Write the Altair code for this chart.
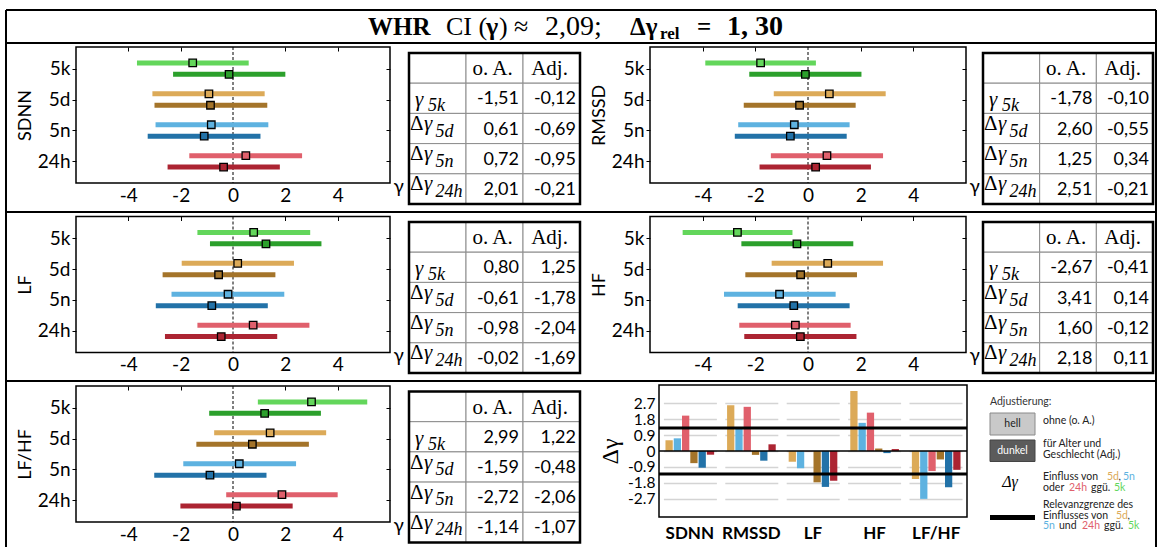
import altair as alt
import pandas as pd

W, H = 1158, 547
SANS = "Lato"
SERIF = "Liberation Serif"

CATS = ["5k", "5d", "5n", "24h"]
METRICS = ["SDNN", "RMSSD", "LF", "HF", "LF/HF"]

# ---- forest plots: CI low / CI high / point estimate for 5k, 5d, 5n, 24h ----
SDNN_OA_LO = [-3.67, -3.08, -2.96, -1.67]
SDNN_OA_HI = [0.60, 1.21, 1.35, 2.64]
SDNN_OA_PT = [-1.54, -0.92, -0.83, 0.49]
SDNN_ADJ_LO = [-2.29, -3.00, -3.26, -2.50]
SDNN_ADJ_HI = [2.00, 1.31, 1.05, 1.79]
SDNN_ADJ_PT = [-0.15, -0.86, -1.10, -0.36]

RMSSD_OA_LO = [-3.90, -1.30, -2.65, -1.41]
RMSSD_OA_HI = [0.30, 2.95, 1.58, 2.85]
RMSSD_OA_PT = [-1.80, 0.81, -0.52, 0.72]
RMSSD_ADJ_LO = [-2.23, -2.44, -2.78, -1.84]
RMSSD_ADJ_HI = [2.03, 1.81, 1.47, 2.39]
RMSSD_ADJ_PT = [-0.10, -0.32, -0.67, 0.29]

LF_OA_LO = [-1.36, -1.96, -2.35, -1.36]
LF_OA_HI = [2.95, 2.33, 1.96, 2.92]
LF_OA_PT = [0.79, 0.18, -0.19, 0.77]
LF_ADJ_LO = [-0.88, -2.69, -2.95, -2.60]
LF_ADJ_HI = [3.38, 1.62, 1.33, 1.69]
LF_ADJ_PT = [1.26, -0.55, -0.81, -0.45]

HF_OA_LO = [-4.76, -1.38, -3.19, -2.61]
HF_OA_HI = [-0.59, 2.85, 1.05, 1.62]
HF_OA_PT = [-2.68, 0.75, -1.08, -0.48]
HF_ADJ_LO = [-2.53, -2.38, -2.67, -2.42]
HF_ADJ_HI = [1.72, 1.86, 1.58, 1.84]
HF_ADJ_PT = [-0.42, -0.28, -0.54, -0.29]

LFHF_OA_LO = [0.95, -0.72, -1.90, -0.26]
LFHF_OA_HI = [5.13, 3.56, 2.41, 4.00]
LFHF_OA_PT = [3.00, 1.42, 0.24, 1.87]
LFHF_ADJ_LO = [-0.91, -1.40, -3.01, -2.01]
LFHF_ADJ_HI = [3.36, 2.90, 1.28, 2.28]
LFHF_ADJ_PT = [1.21, 0.74, -0.88, 0.13]

# ---- tables: gamma_5k, dgamma_5d, dgamma_5n, dgamma_24h ----
TAB_ROWS_SUB = ["5k", "5d", "5n", "24h"]
SDNN_TAB_OA = [-1.51, 0.61, 0.72, 2.01]
SDNN_TAB_ADJ = [-0.12, -0.69, -0.95, -0.21]
RMSSD_TAB_OA = [-1.78, 2.60, 1.25, 2.51]
RMSSD_TAB_ADJ = [-0.10, -0.55, 0.34, -0.21]
LF_TAB_OA = [0.80, -0.61, -0.98, -0.02]
LF_TAB_ADJ = [1.25, -1.78, -2.04, -1.69]
HF_TAB_OA = [-2.67, 3.41, 1.60, 2.18]
HF_TAB_ADJ = [-0.41, 0.14, -0.12, 0.11]
LFHF_TAB_OA = [2.99, -1.59, -2.72, -1.14]
LFHF_TAB_ADJ = [1.22, -0.48, -2.06, -1.07]

# ---- bar chart: delta gamma [5d o.A., 5n o.A., 24h o.A., 5d Adj., 5n Adj., 24h Adj.] ----
BAR_KEYS = ["5d|o", "5n|o", "24h|o", "5d|a", "5n|a", "24h|a"]
BAR_SDNN = [0.61, 0.72, 2.01, -0.69, -0.95, -0.21]
BAR_RMSSD = [2.60, 1.25, 2.51, -0.22, -0.55, 0.38]
BAR_LF = [-0.61, -0.98, -0.02, -1.78, -2.04, -1.69]
BAR_HF = [3.41, 1.60, 2.18, 0.14, -0.12, 0.11]
BAR_LFHF = [-1.59, -2.72, -1.14, -0.48, -2.06, -1.07]
BAR_TICKS = [-2.7, -1.8, -0.9, 0, 0.9, 1.8, 2.7]
DGAMMA_REL = 1.30

COLOR_KEYS = ["5k|o", "5k|a", "5d|o", "5d|a", "5n|o", "5n|a", "24h|o", "24h|a"]
COLOR_VALUES = ["#63d65b", "#2ca02c", "#dcaa58", "#a4742a",
                "#5eb2e0", "#2272a8", "#e0606c", "#ac2432"]
CSCALE = alt.Scale(domain=COLOR_KEYS, range=COLOR_VALUES)

ONE = pd.DataFrame({"a": [0]})

# layout (pixels)
ROW_SEP = [43, 212, 381]
FOREST_TOP = [47, 216.5, 386]
FOREST_H = 136
FOREST_X = [(76, 390), (650, 966)]
TABLE_TOP = [53, 222, 391.5]
TABLE_H = 151
TABLE_X = [(409, 580), (983, 1153)]


def fmt(v):
    return f"{v:.2f}".replace(".", ",")


def forest(name, x0, x1, y0, y1, oa, adj):
    rows = []
    for i, c in enumerate(CATS):
        rows.append({"idx": i + 1, "grp": "o", "key": c + "|o",
                     "lo": oa[0][i], "hi": oa[1][i], "pt": oa[2][i]})
        rows.append({"idx": i + 1, "grp": "a", "key": c + "|a",
                     "lo": adj[0][i], "hi": adj[1][i], "pt": adj[2][i]})
    df = pd.DataFrame(rows)
    xs = alt.Scale(domain=[-6, 6], range=[x0, x1], nice=False, zero=False)
    ys = alt.Scale(domain=[0.3, 4.7], range=[y0, y1], nice=False, zero=False)
    base = alt.Chart(df).transform_calculate(
        yy="datum.idx + (datum.grp == 'o' ? -0.185 : 0.185)")
    frame_df = pd.DataFrame({"xa": [-6], "xb": [6], "ya": [0.3], "yb": [4.7], "z": [0]})

    zero = alt.Chart(frame_df).mark_rule(color="black", strokeWidth=1, strokeDash=[3, 2]).encode(
        x=alt.X("z:Q", scale=xs, axis=None),
        y=alt.Y("ya:Q", scale=ys, axis=None),
        y2="yb:Q")
    ci = base.mark_rule(strokeWidth=5).encode(
        x=alt.X("lo:Q", scale=xs, axis=alt.Axis(
            orient="bottom", offset=y1 - H, values=[-4, -2, 0, 2, 4],
            labelExpr="toString(datum.value)", ticks=False, domain=False, grid=False,
            labelFont=SANS, labelFontSize=19, labelColor="black", labelPadding=3,
            title="γ", titleX=x1 + 3, titleY=3, titleAlign="left", titleBaseline="middle",
            titleAngle=0, titleFont=SANS, titleFontSize=19, titleFontWeight="normal",
            titleColor="black")),
        x2="hi:Q",
        y=alt.Y("yy:Q", scale=ys, axis=alt.Axis(
            orient="left", offset=-x0, values=[1, 2, 3, 4],
            labelExpr="['','5k','5d','5n','24h'][datum.value]",
            tickSize=4, tickColor="black", domain=False, grid=False,
            labelFont=SANS, labelFontSize=19, labelColor="black", labelPadding=2,
            title=name, titleX=-51, titleY=(y0 + y1) / 2, titleAngle=270,
            titleAlign="center", titleBaseline="middle", titleFont=SANS,
            titleFontSize=18, titleFontWeight="normal", titleColor="black")),
        color=alt.Color("key:N", scale=CSCALE, legend=None))
    pts = base.mark_square(size=56, stroke="black", strokeWidth=1.3, opacity=1).encode(
        x=alt.X("pt:Q", scale=xs, axis=alt.Axis(
            orient="top", offset=-(y0 + 4), values=[-4, -2, 2, 4], labels=False,
            tickSize=4, tickColor="black", domain=False, grid=False, title="")),
        y=alt.Y("yy:Q", scale=ys, axis=alt.Axis(
            orient="right", offset=(x1 - 4) - W, values=[1, 2, 3, 4], labels=False,
            tickSize=4, tickColor="black", domain=False, grid=False, title="")),
        color=alt.Color("key:N", scale=CSCALE, legend=None))
    frame = alt.Chart(frame_df).mark_rect(fillOpacity=0, stroke="black", strokeWidth=1.5).encode(
        x=alt.X("xa:Q", scale=xs, axis=None), x2="xb:Q",
        y=alt.Y("ya:Q", scale=ys, axis=None), y2="yb:Q")
    return [zero, ci, pts, frame]


def table(x0, x1, y0, y1, oa, adj):
    xs = alt.Scale(type="band", domain=[0, 1, 2], range=[x0, x1], paddingInner=0, paddingOuter=0)
    ys = alt.Scale(type="band", domain=[0, 1, 2, 3, 4], range=[y0, y1], paddingInner=0, paddingOuter=0)
    cells = pd.DataFrame([{"r": r, "c": c} for r in range(5) for c in range(3)])
    header = pd.DataFrame({"r": [0, 0], "c": [1, 2], "t": ["o. A.", "Adj."]})
    vals = []
    for i in range(4):
        vals.append({"r": i + 1, "c": 1, "t": fmt(oa[i])})
        vals.append({"r": i + 1, "c": 2, "t": fmt(adj[i])})
    vals = pd.DataFrame(vals)
    labs = pd.DataFrame({"r": [1, 2, 3, 4], "c": [0, 0, 0, 0], "sub": TAB_ROWS_SUB})

    def X(bp):
        return alt.X("c:O", scale=xs, axis=None, bandPosition=bp)

    def Y(bp=0.5):
        return alt.Y("r:O", scale=ys, axis=None, bandPosition=bp)

    layers = []
    layers.append(alt.Chart(cells).mark_rect(fill="white", stroke="#8c8c8c", strokeWidth=1).encode(
        x=alt.X("c:O", scale=xs, axis=None), y=alt.Y("r:O", scale=ys, axis=None)))
    layers.append(alt.Chart(header).mark_text(font=SERIF, fontSize=21, color="black",
                                              align="center", baseline="middle", dx=-2, dy=1).encode(
        x=X(0.5), y=Y(), text="t:N"))
    layers.append(alt.Chart(vals).mark_text(font=SANS, fontSize=18, color="black",
                                            align="right", baseline="middle", dx=-4, dy=1).encode(
        x=X(1), y=Y(), text="t:N"))
    first = alt.Chart(labs).transform_filter("datum.r == 1")
    rest = alt.Chart(labs).transform_filter("datum.r > 1")
    layers.append(rest.mark_text(font=SERIF, fontSize=21, color="black", align="left",
                                 baseline="alphabetic", dx=1, dy=1.5, text="Δ").encode(x=X(0), y=Y()))
    layers.append(rest.mark_text(font=SERIF, fontSize=21, fontStyle="italic", color="black", align="left",
                                 baseline="alphabetic", dx=15, dy=1.5, text="γ").encode(x=X(0), y=Y()))
    layers.append(rest.mark_text(font=SERIF, fontSize=18, fontStyle="italic", color="black", align="left",
                                 baseline="alphabetic", dx=26.5, dy=8).encode(x=X(0), y=Y(), text="sub:N"))
    layers.append(first.mark_text(font=SERIF, fontSize=21, fontStyle="italic", color="black", align="left",
                                  baseline="alphabetic", dx=6, dy=8, text="γ").encode(x=X(0), y=Y()))
    layers.append(first.mark_text(font=SERIF, fontSize=18, fontStyle="italic", color="black", align="left",
                                  baseline="alphabetic", dx=19, dy=13).encode(x=X(0), y=Y(), text="sub:N"))
    layers.append(alt.Chart(ONE).mark_rect(fillOpacity=0, stroke="black", strokeWidth=2.5).encode(
        x=alt.value(x0), x2=alt.value(x1), y=alt.value(y0), y2=alt.value(y1)))
    return layers


layers = []

# frame lines of the whole figure
for yy in ROW_SEP:
    layers.append(alt.Chart(ONE).mark_rule(color="black", strokeWidth=2).encode(
        x=alt.value(6), x2=alt.value(1156), y=alt.value(yy)))
layers.append(alt.Chart(ONE).mark_rule(color="black", strokeWidth=2).encode(
    x=alt.value(6), x2=alt.value(1156), y=alt.value(10)))
for xx in [6, 1156]:
    layers.append(alt.Chart(ONE).mark_rule(color="black", strokeWidth=2).encode(
        x=alt.value(xx), y=alt.value(10), y2=alt.value(H)))


def txt(t, x, y, size, weight="normal", font=SERIF, color="black", align="left", style="normal"):
    return alt.Chart(ONE).mark_text(font=font, fontSize=size, fontWeight=weight, color=color,
                                    align=align, baseline="middle", fontStyle=style).encode(
        x=alt.value(x), y=alt.value(y), text=alt.value(t))


# header
layers.append(txt("WHR", 368, 27, 25, "bold"))
layers.append(txt("CI (", 446, 27, 26))
layers.append(txt("γ", 486, 27, 26, "bold"))
layers.append(txt(")", 499, 27, 26))
layers.append(txt("≈", 514, 27, 26))
layers.append(txt("2,09;", 545, 27, 28))
layers.append(txt("Δγ", 630, 27, 25, "bold"))
layers.append(txt("rel", 660, 34, 17, "bold"))
layers.append(txt("=", 697, 27, 25, "bold"))
layers.append(txt("1, 30", 727, 27, 28, "bold"))

# forest plots + tables
panels = [
    ("SDNN", 0, 0, (SDNN_OA_LO, SDNN_OA_HI, SDNN_OA_PT), (SDNN_ADJ_LO, SDNN_ADJ_HI, SDNN_ADJ_PT), SDNN_TAB_OA, SDNN_TAB_ADJ),
    ("RMSSD", 0, 1, (RMSSD_OA_LO, RMSSD_OA_HI, RMSSD_OA_PT), (RMSSD_ADJ_LO, RMSSD_ADJ_HI, RMSSD_ADJ_PT), RMSSD_TAB_OA, RMSSD_TAB_ADJ),
    ("LF", 1, 0, (LF_OA_LO, LF_OA_HI, LF_OA_PT), (LF_ADJ_LO, LF_ADJ_HI, LF_ADJ_PT), LF_TAB_OA, LF_TAB_ADJ),
    ("HF", 1, 1, (HF_OA_LO, HF_OA_HI, HF_OA_PT), (HF_ADJ_LO, HF_ADJ_HI, HF_ADJ_PT), HF_TAB_OA, HF_TAB_ADJ),
    ("LF/HF", 2, 0, (LFHF_OA_LO, LFHF_OA_HI, LFHF_OA_PT), (LFHF_ADJ_LO, LFHF_ADJ_HI, LFHF_ADJ_PT), LFHF_TAB_OA, LFHF_TAB_ADJ),
]
for name, r, c, oa, adj, toa, tadj in panels:
    fx0, fx1 = FOREST_X[c]
    fy0 = FOREST_TOP[r]
    layers += forest(name, fx0, fx1, fy0, fy0 + FOREST_H, oa, adj)
    tx0, tx1 = TABLE_X[c]
    ty0 = TABLE_TOP[r]
    layers += table(tx0, tx1, ty0, ty0 + TABLE_H, toa, tadj)

# bar chart
BX0, BX1, BY0, BY1 = 659, 967, 385, 517
brows = []
for m, vals in zip(METRICS, [BAR_SDNN, BAR_RMSSD, BAR_LF, BAR_HF, BAR_LFHF]):
    for k, v in zip(BAR_KEYS, vals):
        brows.append({"metric": m, "key": k, "v": v})
bdf = pd.DataFrame(brows)
bys = alt.Scale(domain=[-3.75, 3.75], range=[BY1, BY0], nice=False)
bars = alt.Chart(bdf).mark_bar().encode(
    x=alt.X("metric:N", sort=METRICS, scale=alt.Scale(domain=METRICS, range=[BX0, BX1],
                                                       paddingInner=0.21, paddingOuter=0.105),
            axis=alt.Axis(orient="bottom", offset=BY1 - H, labelFont=SANS, labelFontSize=17,
                          labelFontWeight="bold", labelColor="black", ticks=False, domain=False,
                          labelPadding=8, labelAngle=0, title="")),
    xOffset=alt.XOffset("key:N", sort=BAR_KEYS, scale=alt.Scale(domain=BAR_KEYS, paddingInner=0.12)),
    y=alt.Y("v:Q", scale=bys, stack=False, axis=alt.Axis(
        orient="left", offset=-BX0, values=BAR_TICKS, labelExpr="toString(datum.value)",
        labelOverlap=False, labelBound=False,
        grid=True, gridDash=[53, 8.4], gridDashOffset=57, gridColor="#d4d4d4", gridWidth=1.5,
        ticks=False, domain=False, labelFont=SANS, labelFontSize=15.5, labelColor="black",
        labelPadding=4, title="Δγ", titleX=610 - BX0, titleY=451, titleAngle=270,
        titleAlign="center", titleBaseline="middle", titleFont=SERIF, titleFontSize=24,
        titleFontWeight="normal", titleColor="black")),
    color=alt.Color("key:N", scale=CSCALE, legend=None))
layers.append(bars)
ref_df = pd.DataFrame({"v": [0.0]})
layers.append(alt.Chart(ref_df).mark_rule(color="black", strokeWidth=1.5).encode(
    y=alt.Y("v:Q", scale=bys, axis=None), x=alt.value(BX0), x2=alt.value(BX1)))
rel_df = pd.DataFrame({"v": [DGAMMA_REL, -DGAMMA_REL]})
layers.append(alt.Chart(rel_df).mark_rule(color="black", strokeWidth=3).encode(
    y=alt.Y("v:Q", scale=bys, axis=None), x=alt.value(BX0), x2=alt.value(BX1)))
layers.append(alt.Chart(ONE).mark_rect(fillOpacity=0, stroke="black", strokeWidth=1.5).encode(
    x=alt.value(BX0), x2=alt.value(BX1), y=alt.value(BY0), y2=alt.value(BY1)))

# legend box
C5K, C5D, C5N, C24 = "#63d65b", "#dcaa58", "#5eb2e0", "#e0606c"
LS = 10.5
layers.append(txt("Adjustierung:", 990, 402, LS, font=SANS, color="#333"))
layers.append(alt.Chart(ONE).mark_rect(fill="#c9c9c9", stroke="#8a8a8a", strokeWidth=1).encode(
    x=alt.value(990), x2=alt.value(1035), y=alt.value(413), y2=alt.value(435)))
layers.append(txt("hell", 1012.5, 424, 10.5, font=SANS, color="#222", align="center"))
layers.append(txt("ohne (o. A.)", 1043, 421, LS, font=SANS, color="#222"))
layers.append(alt.Chart(ONE).mark_rect(fill="#5b5b5b", stroke="#444", strokeWidth=1).encode(
    x=alt.value(990), x2=alt.value(1035), y=alt.value(440), y2=alt.value(461.5)))
layers.append(txt("dunkel", 1012.5, 451, 10.5, font=SANS, color="white", align="center"))
layers.append(txt("für Alter und", 1043, 444, LS, font=SANS, color="#222"))
layers.append(txt("Geschlecht (Adj.)", 1043, 455, LS, font=SANS, color="#222"))
layers.append(txt("Δγ", 1010, 482, 16, font=SERIF, color="black", align="center", style="italic"))
for t, x, y, col in [
    ("Einfluss von", 1043, 477, "#222"), ("5d", 1107, 477, C5D), (",", 1118.5, 477, "#222"),
    ("5n", 1123, 477, C5N),
    ("oder", 1043, 487.5, "#222"), ("24h", 1069, 487.5, C24), ("ggü.", 1091, 487.5, "#222"),
    ("5k", 1114, 487.5, C5K),
    ("Relevanzgrenze des", 1043, 505, "#222"),
    ("Einflusses von", 1043, 515.5, "#222"), ("5d", 1116, 515.5, C5D), (",", 1127.5, 515.5, "#222"),
    ("5n", 1043, 526, C5N), ("und", 1059, 526, "#222"), ("24h", 1082, 526, C24),
    ("ggü.", 1104, 526, "#222"), ("5k", 1128, 526, C5K),
]:
    layers.append(txt(t, x, y, LS, font=SANS, color=col))
layers.append(alt.Chart(ONE).mark_rule(color="black", strokeWidth=5).encode(
    x=alt.value(990), x2=alt.value(1035), y=alt.value(517.5)))

chart = alt.layer(*layers).resolve_scale(
    x="independent", y="independent", color="independent"
).resolve_axis(
    x="independent", y="independent"
).properties(
    width=W, height=H, padding=0, autosize=alt.AutoSizeParams(type="none"), background="white"
).configure_view(strokeWidth=0)

chart.save("out.html", embed_options={"renderer": "svg", "actions": False})
